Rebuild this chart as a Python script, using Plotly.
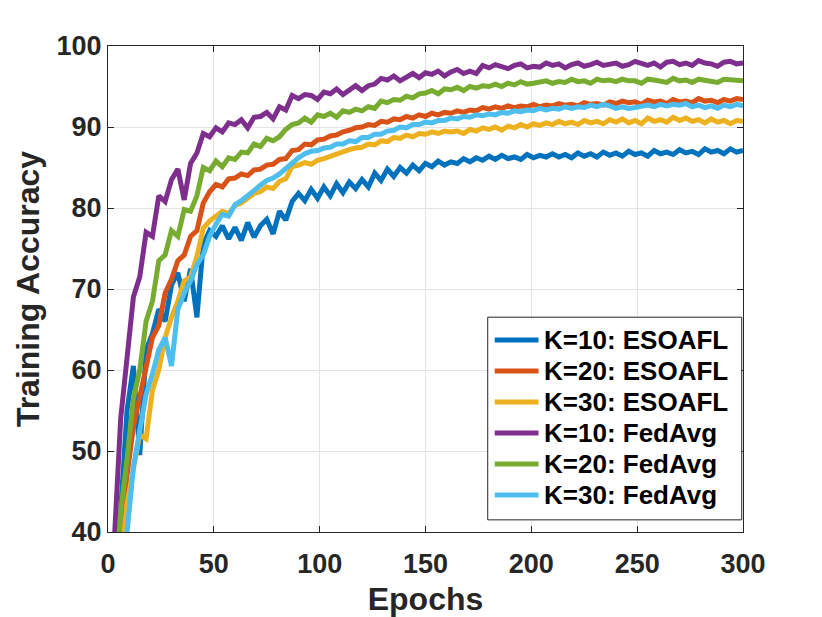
import plotly.graph_objects as go

# epochs sampled every 3 epochs, 0..300
epochs = list(range(0, 301, 3))

# K=10: ESOAFL
k10_esoafl = [18, 30, 42, 55, 60.5, 49.5, 62.5, 64.5, 67.5, 66.0,
              70.5, 72.0, 68.5, 72.5, 66.5, 75.5, 77.2, 76.5, 77.8, 76.2,
              77.6, 76.0, 78.2, 76.4, 77.8, 78.6, 76.8, 79.6, 78.5, 80.8,
              81.8, 80.9, 82.3, 81.2, 82.6, 81.5, 83.0, 81.9, 83.2, 82.4,
              83.5, 82.6, 84.3, 83.4, 84.8, 83.9, 85.0, 84.3, 85.3, 84.6,
              85.5, 85.1, 85.8, 85.3, 85.7, 85.5, 86.1, 85.7, 86.2, 85.9,
              86.4, 86.0, 86.5, 86.1, 86.3, 86.0, 86.6, 86.2, 86.5, 86.3,
              86.7, 86.3, 86.6, 86.2, 86.8, 86.4, 86.7, 86.3, 86.9, 86.5,
              86.8, 86.4, 87.0, 86.6, 86.8, 86.4, 87.1, 86.7, 86.9, 86.6,
              87.2, 86.8, 87.0, 86.6, 87.3, 86.9, 87.1, 86.7, 87.3, 86.9,
              87.1]

# K=20: ESOAFL
k20_esoafl = [18, 27, 38.5, 47, 53, 56.5, 60.5, 64.0, 65.5, 69.5,
              71.2, 73.5, 74.2, 76.5, 77.2, 80.6, 82.0, 82.9, 82.6, 83.6,
              83.7, 84.2, 84.0, 84.7, 84.8, 85.3, 85.4, 86.0, 86.1, 87.1,
              87.2, 87.9, 87.8, 88.4, 88.5, 88.9, 89.0, 89.4, 89.6, 89.9,
              90.0, 90.3, 90.2, 90.7, 90.6, 91.0, 90.9, 91.3, 91.1, 91.5,
              91.3, 91.7, 91.5, 91.8, 91.7, 92.0, 91.8, 92.1, 92.0, 92.4,
              92.2, 92.5, 92.3, 92.6, 92.4, 92.6, 92.5, 92.8, 92.5, 92.7,
              92.6, 92.9, 92.7, 92.8, 92.6, 93.0, 92.8, 92.9, 92.7, 93.1,
              92.9, 93.2, 93.0, 93.1, 92.8, 93.3, 93.1, 93.2, 92.9, 93.4,
              93.1, 93.2, 93.0, 93.5, 93.2, 93.3, 93.0, 93.4, 93.2, 93.5,
              93.4]

# K=30: ESOAFL
k30_esoafl = [16, 26, 36, 43.5, 47.5, 52.0, 51.5, 57.5, 60.0, 64.0,
              66.5, 68.5, 71.0, 71.5, 74.0, 77.5, 78.4, 79.0, 79.6, 79.3,
              80.3, 80.6, 81.2, 81.8, 82.0, 82.6, 82.4, 83.3, 83.6, 85.1,
              85.3, 85.6, 85.4, 85.9, 86.1, 86.4, 86.7, 86.9, 87.2, 87.4,
              87.5, 87.9, 87.8, 88.3, 88.2, 88.7, 88.6, 89.0, 88.8, 89.2,
              89.1, 89.4, 89.2, 89.5, 89.4, 89.5, 89.2, 89.7, 89.5, 89.9,
              89.7, 90.0, 89.6, 90.1, 89.9, 90.3, 90.0, 90.4, 90.2, 90.5,
              90.3, 90.7, 90.4, 90.6, 90.3, 90.8, 90.5, 90.7, 90.4, 90.9,
              90.6, 91.0, 90.5, 90.8, 90.4, 91.1, 90.7, 90.9, 90.6, 91.2,
              90.8, 91.1, 90.7, 90.9, 90.5, 91.0, 90.6, 90.8, 90.4, 90.8,
              90.7]

# K=10: FedAvg
k10_fedavg = [24, 39, 54, 61.5, 69, 71.5, 77, 76.5, 81.5, 80.8,
              83.5, 84.8, 81.0, 85.5, 86.8, 89.2, 88.8, 89.9, 89.4, 90.5,
              90.3, 90.9, 89.9, 91.2, 91.3, 91.8, 91.0, 92.5, 92.1, 93.9,
              93.5, 94.0, 93.9, 93.4, 94.3, 94.1, 94.7, 94.0, 94.6, 95.1,
              94.5, 95.1, 95.3, 96.0, 95.8, 96.3, 95.7, 96.2, 96.6, 96.1,
              96.7, 96.5, 96.9, 96.3, 96.8, 97.1, 96.6, 96.9, 96.6, 97.6,
              97.3, 97.7, 97.5, 97.2, 97.6, 97.8, 97.3, 97.5, 97.4, 97.9,
              97.6, 97.8, 97.3, 97.7, 97.9, 97.5, 97.7, 98.0, 97.6, 97.8,
              97.9, 97.5, 97.7, 98.1, 97.8, 97.6, 97.9, 97.4, 98.0, 98.1,
              97.7, 97.9, 97.6, 98.2, 97.9, 97.8, 97.5, 98.0, 98.1, 97.8,
              97.9]

# K=20: FedAvg
k20_fedavg = [20, 31, 42.5, 49, 56.5, 60, 66, 68.5, 73.5, 74.2,
              77.2, 76.5, 79.8, 79.6, 81.5, 85.0, 84.6, 85.8, 85.1, 86.2,
              86.0, 86.9, 86.8, 87.9, 87.6, 88.6, 88.3, 88.8, 89.7, 90.3,
              90.5, 91.1, 90.6, 91.5, 91.3, 91.7, 91.2, 92.0, 91.8, 92.2,
              92.0, 92.5, 92.3, 93.2, 93.0, 93.4, 93.3, 93.8, 93.6, 94.1,
              94.2, 94.5, 94.1, 94.7, 94.6, 94.9, 94.5, 95.0, 94.8, 95.1,
              95.0, 95.3, 95.0, 95.4, 95.2, 95.6, 95.3, 95.4, 95.5, 95.7,
              95.4, 95.6, 95.5, 95.9, 95.6, 95.7, 95.4, 95.9, 95.7, 95.8,
              95.6, 95.9, 95.7, 95.7, 95.4, 95.9, 95.8, 95.7, 95.5, 96.0,
              95.7, 95.8, 95.5, 95.9, 95.8, 95.6, 95.5, 95.9, 95.8, 95.7,
              95.7]

# K=30: FedAvg
k30_fedavg = [15, 24, 32, 40, 48, 52.5, 57, 59.5, 62.5, 64.0,
              60.5, 67.5, 69.5, 71.0, 73.0, 74.2, 76.5, 78.0, 79.2, 79.0,
              80.4, 80.9, 81.6, 82.2, 82.8, 83.4, 83.7, 84.2, 84.9, 85.7,
              86.2, 86.7, 87.0, 87.1, 87.4, 87.5, 87.9, 87.9, 88.3, 88.2,
              88.7, 88.7, 89.1, 89.1, 89.5, 89.6, 90.0, 89.9, 90.3, 90.3,
              90.6, 90.5, 90.8, 90.8, 91.1, 91.0, 91.3, 91.2, 91.5, 91.4,
              91.6, 91.5, 91.8, 91.7, 92.0, 91.9, 92.1, 92.0, 92.3, 92.1,
              92.3, 92.2, 92.5, 92.3, 92.5, 92.4, 92.7, 92.5, 92.8, 92.6,
              92.3, 92.5, 92.3, 92.4, 92.5, 92.7, 92.5, 92.8, 92.6, 92.8,
              92.7, 92.9, 92.5, 92.7, 92.4, 92.6, 92.3, 92.7, 92.5, 92.8,
              92.6]

series = [
    ('K=10: ESOAFL', k10_esoafl, '#0072BD'),
    ('K=20: ESOAFL', k20_esoafl, '#D95319'),
    ('K=30: ESOAFL', k30_esoafl, '#EDB120'),
    ('K=10: FedAvg', k10_fedavg, '#7E2F8E'),
    ('K=20: FedAvg', k20_fedavg, '#77AC30'),
    ('K=30: FedAvg', k30_fedavg, '#4DBEEE'),
]

FONT = 'Liberation Sans'
AXCOL = '#262626'

fig = go.Figure()
for name, vals, col in series:
    fig.add_trace(go.Scatter(x=epochs, y=vals, mode='lines', name=name,
                             line=dict(color=col, width=5)))

# matlab-style legend (tighter rows than plotly's own legend)
fig.add_shape(type='rect', xref='paper', yref='paper',
              x0=0.598, x1=0.998, y0=0.025, y1=0.442,
              fillcolor='white', line=dict(color=AXCOL, width=1), layer='above')
row_top, row_step = 0.395, 0.0638
for i, (name, vals, col) in enumerate(series):
    yy = row_top - i * row_step
    fig.add_shape(type='line', xref='paper', yref='paper',
                  x0=0.609, x1=0.678, y0=yy, y1=yy,
                  line=dict(color=col, width=5), layer='above')
    fig.add_annotation(xref='paper', yref='paper', x=0.684, y=yy,
                       xanchor='left', yanchor='middle', showarrow=False,
                       text=name,
                       font=dict(family=FONT, size=26, color='black', weight='bold'))

axis_style = dict(showline=True, linecolor=AXCOL, linewidth=1, mirror='ticks',
                  ticks='inside', ticklen=6, tickcolor=AXCOL,
                  showgrid=True, gridcolor='#e4e4e4', gridwidth=1,
                  zeroline=False, automargin=False,
                  tickfont=dict(family=FONT, size=27, color=AXCOL, weight='bold'))

# page body has an 8px margin, so the figure is a bit smaller than the window
fig.update_layout(
    width=814, height=609,
    margin=dict(l=100, r=79, t=38, b=85),
    paper_bgcolor='white', plot_bgcolor='white',
    showlegend=False,
    xaxis=dict(range=[0, 300], tickvals=[0, 50, 100, 150, 200, 250, 300],
               ticklabelstandoff=8,
               title=dict(text='Epochs', standoff=21,
                          font=dict(family=FONT, size=32, color=AXCOL, weight='bold')),
               **axis_style),
    yaxis=dict(range=[40, 100], tickvals=[40, 50, 60, 70, 80, 90, 100],
               title=dict(text='Training Accuracy', standoff=7,
                          font=dict(family=FONT, size=32, color=AXCOL, weight='bold')),
               **axis_style),
)

fig.write_html("out.html")
